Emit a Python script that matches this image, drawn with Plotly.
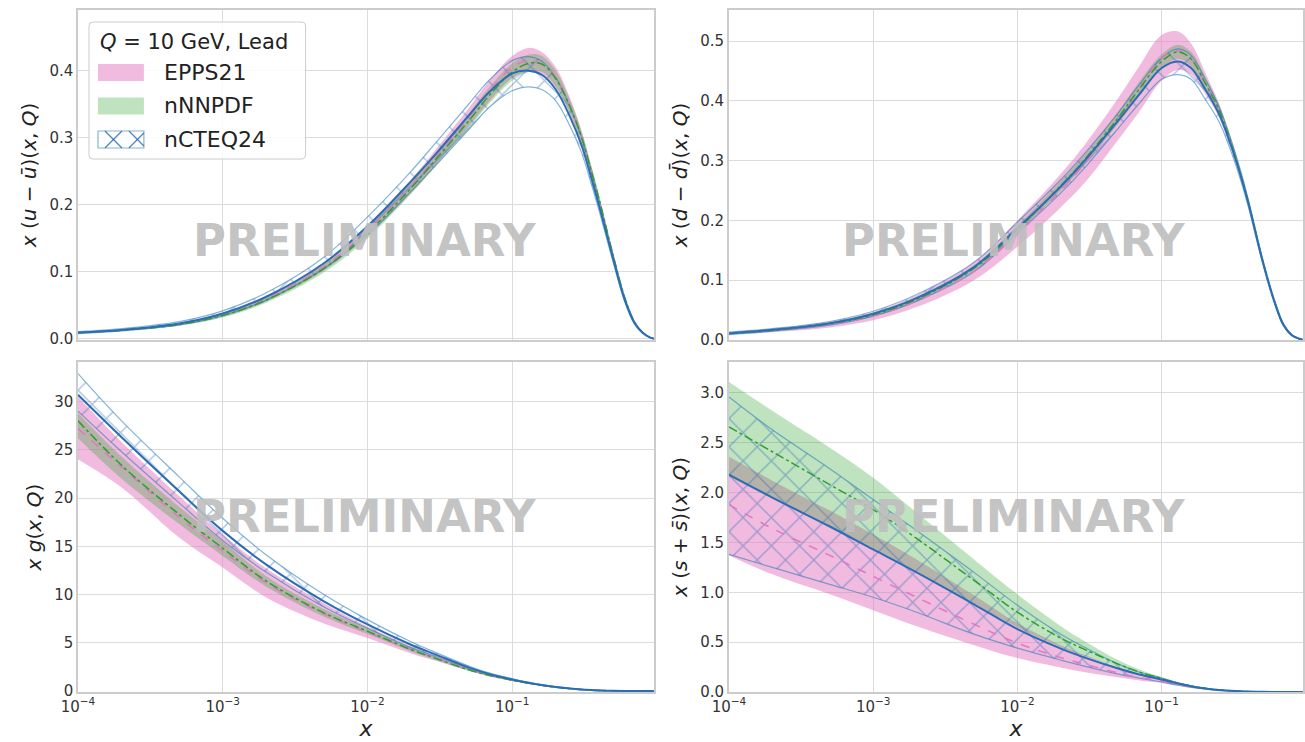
import plotly.graph_objects as go
from plotly.subplots import make_subplots

# ---------------- data ----------------
x_grid = [1e-4, 2e-4, 5e-4, 1e-3, 2e-3, 5e-3, 1e-2, 2e-2, 3e-2, 5e-2, 0.07, 0.1, 0.13, 0.16,
          0.2, 0.25, 0.3, 0.35, 0.4, 0.5, 0.6, 0.7, 0.8, 0.9, 0.95]

# x(u - ubar)
uv_epps_c = [0.0095, 0.013, 0.022, 0.036, 0.06, 0.108, 0.162, 0.228, 0.272, 0.33, 0.37, 0.405, 0.415, 0.41, 0.39, 0.348, 0.302, 0.252, 0.205, 0.122, 0.06, 0.025, 0.009, 0.002, 0.0005]
uv_epps_hi = [0.0105, 0.0145, 0.024, 0.039, 0.064, 0.114, 0.17, 0.238, 0.284, 0.344, 0.386, 0.422, 0.434, 0.428, 0.405, 0.36, 0.312, 0.26, 0.211, 0.126, 0.063, 0.026, 0.0095, 0.0021, 0.0005]
uv_epps_lo = [0.0085, 0.012, 0.020, 0.033, 0.056, 0.102, 0.154, 0.218, 0.261, 0.317, 0.355, 0.389, 0.398, 0.393, 0.375, 0.336, 0.292, 0.244, 0.198, 0.118, 0.057, 0.024, 0.0085, 0.0019, 0.0005]
uv_nnpdf_c = [0.0093, 0.013, 0.0215, 0.035, 0.058, 0.105, 0.158, 0.225, 0.269, 0.325, 0.364, 0.398, 0.411, 0.41, 0.388, 0.347, 0.302, 0.252, 0.207, 0.123, 0.061, 0.025, 0.009, 0.002, 0.0005]
uv_nnpdf_hi = [0.0101, 0.014, 0.0233, 0.038, 0.062, 0.111, 0.166, 0.234, 0.279, 0.336, 0.376, 0.411, 0.424, 0.422, 0.4, 0.357, 0.311, 0.26, 0.213, 0.127, 0.063, 0.026, 0.0095, 0.0021, 0.0005]
uv_nnpdf_lo = [0.0085, 0.012, 0.0197, 0.032, 0.054, 0.099, 0.15, 0.216, 0.259, 0.314, 0.352, 0.385, 0.398, 0.398, 0.376, 0.337, 0.293, 0.244, 0.201, 0.119, 0.059, 0.024, 0.0085, 0.0019, 0.0005]
uv_ncteq_c = [0.0095, 0.0134, 0.023, 0.038, 0.063, 0.113, 0.168, 0.235, 0.277, 0.333, 0.369, 0.396, 0.400, 0.394, 0.372, 0.332, 0.29, 0.242, 0.197, 0.118, 0.058, 0.024, 0.009, 0.002, 0.0005]
uv_ncteq_hi = [0.011, 0.0155, 0.026, 0.042, 0.069, 0.122, 0.182, 0.25, 0.294, 0.35, 0.387, 0.415, 0.421, 0.414, 0.39, 0.347, 0.302, 0.252, 0.205, 0.124, 0.062, 0.026, 0.010, 0.0023, 0.0006]
uv_ncteq_lo = [0.008, 0.012, 0.021, 0.035, 0.058, 0.105, 0.155, 0.22, 0.26, 0.312, 0.346, 0.370, 0.376, 0.372, 0.355, 0.318, 0.279, 0.233, 0.19, 0.113, 0.055, 0.022, 0.008, 0.0018, 0.0004]

# x(d - dbar)
dv_epps_c = [0.011, 0.016, 0.026, 0.04, 0.065, 0.115, 0.178, 0.25, 0.298, 0.37, 0.42, 0.472, 0.484, 0.47, 0.43, 0.384, 0.331, 0.279, 0.229, 0.133, 0.067, 0.025, 0.008, 0.002, 0.0005]
dv_epps_hi = [0.013, 0.019, 0.031, 0.047, 0.075, 0.13, 0.2, 0.278, 0.33, 0.405, 0.458, 0.51, 0.516, 0.496, 0.448, 0.396, 0.34, 0.286, 0.234, 0.136, 0.069, 0.026, 0.0085, 0.0021, 0.0005]
dv_epps_lo = [0.009, 0.013, 0.021, 0.033, 0.055, 0.1, 0.156, 0.222, 0.266, 0.335, 0.382, 0.434, 0.452, 0.444, 0.412, 0.372, 0.322, 0.272, 0.224, 0.13, 0.065, 0.024, 0.0075, 0.0019, 0.0005]
dv_nnpdf_c = [0.011, 0.016, 0.027, 0.042, 0.068, 0.12, 0.185, 0.258, 0.305, 0.372, 0.42, 0.466, 0.482, 0.47, 0.43, 0.385, 0.332, 0.28, 0.23, 0.134, 0.067, 0.025, 0.008, 0.002, 0.0005]
dv_nnpdf_hi = [0.012, 0.0175, 0.029, 0.045, 0.072, 0.125, 0.192, 0.266, 0.314, 0.382, 0.432, 0.478, 0.494, 0.482, 0.44, 0.393, 0.339, 0.286, 0.235, 0.137, 0.069, 0.026, 0.0085, 0.0021, 0.0005]
dv_nnpdf_lo = [0.010, 0.0145, 0.025, 0.039, 0.064, 0.115, 0.178, 0.25, 0.296, 0.362, 0.408, 0.454, 0.47, 0.458, 0.42, 0.377, 0.325, 0.274, 0.225, 0.131, 0.065, 0.024, 0.0075, 0.0019, 0.0005]
dv_ncteq_c = [0.011, 0.017, 0.028, 0.044, 0.07, 0.122, 0.187, 0.257, 0.303, 0.367, 0.411, 0.455, 0.466, 0.455, 0.42, 0.378, 0.328, 0.278, 0.228, 0.133, 0.067, 0.025, 0.008, 0.002, 0.0005]
dv_ncteq_hi = [0.013, 0.019, 0.031, 0.048, 0.076, 0.13, 0.197, 0.268, 0.315, 0.38, 0.427, 0.472, 0.487, 0.476, 0.437, 0.39, 0.338, 0.286, 0.234, 0.137, 0.07, 0.027, 0.009, 0.0022, 0.0006]
dv_ncteq_lo = [0.009, 0.015, 0.025, 0.04, 0.065, 0.114, 0.178, 0.246, 0.291, 0.354, 0.396, 0.436, 0.444, 0.436, 0.403, 0.365, 0.318, 0.27, 0.222, 0.129, 0.064, 0.023, 0.007, 0.0018, 0.0004]

# x g
g_epps_c = [27.2, 23.2, 18.0, 14.5, 11.2, 8.0, 6.1, 4.3, 3.4, 2.25, 1.62, 1.12, 0.8, 0.59, 0.4, 0.25, 0.15, 0.095, 0.06, 0.022, 0.008, 0.0025, 0.0008, 0.0001, 0.0]
g_epps_hi = [30.5, 25.8, 20.2, 16.2, 12.7, 9.1, 6.7, 4.7, 3.65, 2.4, 1.72, 1.18, 0.85, 0.62, 0.42, 0.26, 0.16, 0.1, 0.063, 0.024, 0.009, 0.003, 0.001, 0.0002, 0.0]
g_epps_lo = [24.0, 21.1, 15.9, 12.8, 9.7, 7.0, 5.5, 3.9, 3.1, 2.1, 1.5, 1.05, 0.76, 0.55, 0.37, 0.23, 0.14, 0.09, 0.055, 0.02, 0.007, 0.002, 0.0006, 0.0001, 0.0]
g_nnpdf_c = [28.0, 23.4, 18.3, 14.8, 11.4, 8.1, 6.2, 4.3, 3.35, 2.2, 1.6, 1.12, 0.8, 0.59, 0.4, 0.25, 0.155, 0.095, 0.06, 0.022, 0.008, 0.0025, 0.0008, 0.0001, 0.0]
g_nnpdf_hi = [28.8, 24.3, 19.1, 15.5, 11.9, 8.5, 6.5, 4.5, 3.5, 2.3, 1.68, 1.17, 0.84, 0.62, 0.42, 0.26, 0.162, 0.1, 0.063, 0.024, 0.0085, 0.0027, 0.0009, 0.0002, 0.0]
g_nnpdf_lo = [26.2, 22.0, 17.3, 14.0, 10.8, 7.7, 5.9, 4.1, 3.2, 2.1, 1.53, 1.07, 0.77, 0.56, 0.38, 0.24, 0.147, 0.09, 0.057, 0.02, 0.0075, 0.0023, 0.0007, 0.0001, 0.0]
g_ncteq_c = [30.7, 26.3, 20.7, 16.6, 13.1, 9.3, 6.9, 4.8, 3.75, 2.45, 1.75, 1.2, 0.85, 0.62, 0.42, 0.26, 0.16, 0.1, 0.065, 0.025, 0.009, 0.003, 0.001, 0.0002, 0.0]
g_ncteq_hi = [32.9, 28.0, 22.2, 17.9, 14.1, 10.0, 7.4, 5.1, 3.95, 2.6, 1.85, 1.27, 0.9, 0.66, 0.45, 0.28, 0.17, 0.11, 0.07, 0.027, 0.01, 0.0035, 0.001, 0.0002, 0.0]
g_ncteq_lo = [29.0, 24.8, 19.5, 15.6, 12.3, 8.7, 6.5, 4.5, 3.55, 2.3, 1.65, 1.13, 0.8, 0.58, 0.39, 0.24, 0.15, 0.09, 0.06, 0.023, 0.008, 0.0025, 0.0008, 0.0001, 0.0]

# x(s + sbar)
s_epps_c = [1.88, 1.64, 1.37, 1.16, 0.95, 0.68, 0.49, 0.345, 0.275, 0.19, 0.145, 0.11, 0.075, 0.052, 0.032, 0.018, 0.01, 0.006, 0.0035, 0.0012, 0.0004, 0.0001, 0.0, 0.0, 0.0]
s_epps_hi = [2.36, 2.12, 1.82, 1.58, 1.33, 0.97, 0.69, 0.47, 0.365, 0.24, 0.175, 0.128, 0.086, 0.058, 0.036, 0.02, 0.012, 0.007, 0.004, 0.0015, 0.0005, 0.0001, 0.0, 0.0, 0.0]
s_epps_lo = [1.37, 1.18, 0.98, 0.82, 0.66, 0.47, 0.34, 0.245, 0.195, 0.145, 0.115, 0.09, 0.062, 0.043, 0.027, 0.015, 0.009, 0.005, 0.003, 0.001, 0.0003, 0.0001, 0.0, 0.0, 0.0]
s_nnpdf_c = [2.66, 2.41, 2.08, 1.83, 1.54, 1.12, 0.8, 0.54, 0.42, 0.28, 0.2, 0.135, 0.088, 0.06, 0.037, 0.021, 0.012, 0.007, 0.004, 0.0015, 0.0005, 0.0001, 0.0, 0.0, 0.0]
s_nnpdf_hi = [3.11, 2.82, 2.45, 2.15, 1.8, 1.33, 0.98, 0.66, 0.5, 0.32, 0.225, 0.15, 0.097, 0.065, 0.04, 0.023, 0.014, 0.008, 0.005, 0.002, 0.0006, 0.0001, 0.0, 0.0, 0.0]
s_nnpdf_lo = [2.16, 1.94, 1.66, 1.44, 1.21, 0.89, 0.65, 0.45, 0.355, 0.235, 0.17, 0.12, 0.08, 0.055, 0.034, 0.019, 0.011, 0.0065, 0.0037, 0.0013, 0.0004, 0.0001, 0.0, 0.0, 0.0]
s_ncteq_c = [2.18, 1.95, 1.66, 1.43, 1.2, 0.88, 0.63, 0.435, 0.34, 0.235, 0.175, 0.125, 0.085, 0.058, 0.036, 0.02, 0.012, 0.007, 0.004, 0.0015, 0.0005, 0.0001, 0.0, 0.0, 0.0]
s_ncteq_hi = [2.96, 2.63, 2.24, 1.93, 1.62, 1.2, 0.87, 0.58, 0.44, 0.28, 0.2, 0.14, 0.092, 0.062, 0.038, 0.022, 0.013, 0.0075, 0.0045, 0.0016, 0.0005, 0.0001, 0.0, 0.0, 0.0]
s_ncteq_lo = [1.38, 1.25, 1.08, 0.95, 0.8, 0.58, 0.44, 0.32, 0.255, 0.18, 0.14, 0.1, 0.068, 0.047, 0.03, 0.017, 0.01, 0.0055, 0.0032, 0.0011, 0.0004, 0.0001, 0.0, 0.0, 0.0]

x_tick_vals = [1e-4, 1e-3, 1e-2, 1e-1]
x_tick_text = ["10<sup>−4</sup>", "10<sup>−3</sup>", "10<sup>−2</sup>", "10<sup>−1</sup>"]
set_names = ["EPPS21", "nNNPDF", "nCTEQ24"]
legend_title = "<i>Q</i> = 10 GeV, Lead"
watermark = "PRELIMINARY"

# ---------------- styling ----------------
PINK_FILL = "rgba(227,119,194,0.5)"
GREEN_FILL = "rgba(44,160,44,0.3)"
BLUE = "#2a6db5"
BLUE_EDGE = "rgba(31,119,180,0.55)"
HATCH = "rgba(31,100,180,0.8)"
PINK_LINE = "#e377c2"
GREEN_LINE = "#2ca02c"
FONT = "DejaVu Sans"

fig = make_subplots(rows=2, cols=2, horizontal_spacing=0.06, vertical_spacing=0.03)

panels = [
    (1, 1, (uv_epps_lo, uv_epps_hi, uv_epps_c), (uv_nnpdf_lo, uv_nnpdf_hi, uv_nnpdf_c), (uv_ncteq_lo, uv_ncteq_hi, uv_ncteq_c)),
    (1, 2, (dv_epps_lo, dv_epps_hi, dv_epps_c), (dv_nnpdf_lo, dv_nnpdf_hi, dv_nnpdf_c), (dv_ncteq_lo, dv_ncteq_hi, dv_ncteq_c)),
    (2, 1, (g_epps_lo, g_epps_hi, g_epps_c), (g_nnpdf_lo, g_nnpdf_hi, g_nnpdf_c), (g_ncteq_lo, g_ncteq_hi, g_ncteq_c)),
    (2, 2, (s_epps_lo, s_epps_hi, s_epps_c), (s_nnpdf_lo, s_nnpdf_hi, s_nnpdf_c), (s_ncteq_lo, s_ncteq_hi, s_ncteq_c)),
]

for (r, c, ep, nn, nc) in panels:
    # EPPS21 band
    fig.add_trace(go.Scatter(x=x_grid, y=ep[0], mode="lines", line=dict(width=0, shape="spline"),
                             showlegend=False, hoverinfo="skip"), row=r, col=c)
    fig.add_trace(go.Scatter(x=x_grid, y=ep[1], mode="lines", line=dict(width=0, shape="spline"),
                             fill="tonexty", fillcolor=PINK_FILL, name=set_names[0],
                             showlegend=False, hoverinfo="skip"), row=r, col=c)
    # nNNPDF band
    fig.add_trace(go.Scatter(x=x_grid, y=nn[0], mode="lines", line=dict(width=0, shape="spline"),
                             showlegend=False, hoverinfo="skip"), row=r, col=c)
    fig.add_trace(go.Scatter(x=x_grid, y=nn[1], mode="lines", line=dict(width=0, shape="spline"),
                             fill="tonexty", fillcolor=GREEN_FILL, name=set_names[1],
                             showlegend=False, hoverinfo="skip"), row=r, col=c)
    # nCTEQ24 hatched band
    fig.add_trace(go.Scatter(x=x_grid, y=nc[0], mode="lines", line=dict(width=1.2, color=BLUE_EDGE, shape="spline"),
                             showlegend=False, hoverinfo="skip"), row=r, col=c)
    fig.add_trace(go.Scatter(x=x_grid, y=nc[1], mode="lines", line=dict(width=1.2, color=BLUE_EDGE, shape="spline"),
                             fill="tonexty", fillcolor="rgba(0,0,0,0)",
                             fillpattern=dict(shape="x", fgcolor=HATCH, fillmode="overlay",
                                              size=20, solidity=0.13),
                             name=set_names[2], showlegend=False, hoverinfo="skip"), row=r, col=c)
    # central lines
    fig.add_trace(go.Scatter(x=x_grid, y=ep[2], mode="lines",
                             line=dict(width=1.5, color=PINK_LINE, dash="dash", shape="spline"),
                             showlegend=False, hoverinfo="skip"), row=r, col=c)
    fig.add_trace(go.Scatter(x=x_grid, y=nn[2], mode="lines",
                             line=dict(width=1.5, color=GREEN_LINE, dash="dashdot", shape="spline"),
                             showlegend=False, hoverinfo="skip"), row=r, col=c)
    fig.add_trace(go.Scatter(x=x_grid, y=nc[2], mode="lines",
                             line=dict(width=2, color=BLUE, shape="spline"),
                             showlegend=False, hoverinfo="skip"), row=r, col=c)

W, H = 1305, 742
ml, mr, mt, mb = 78, 0, 10, 50
pw, ph = W - ml - mr, H - mt - mb

def px_x(p):
    return (p - ml) / pw

def px_y(p):
    return (H - mb - p) / ph

xl = [px_x(78), px_x(655)]
xr = [px_x(730), 1.0]
yt = [px_y(340), 1.0]
yb = [0.0, px_y(362)]

axis_common = dict(showgrid=True, gridcolor="#dcdcdc", gridwidth=1, showline=True, mirror=True,
                   linecolor="#cccccc", linewidth=1.5, ticks="", zeroline=False,
                   tickfont=dict(family=FONT, size=15, color="#333333"))

for r, c, dom_x, dom_y in [(1, 1, xl, yt), (1, 2, xr, yt), (2, 1, xl, yb), (2, 2, xr, yb)]:
    fig.update_xaxes(type="log", range=[-4, -0.02], domain=dom_x, tickvals=x_tick_vals,
                     ticktext=x_tick_text, showticklabels=(r == 2), row=r, col=c, **axis_common)
    fig.update_yaxes(domain=dom_y, row=r, col=c, **axis_common)

title_font = dict(family=FONT, size=20, color="#222222")
fig.update_yaxes(range=[-0.0015, 0.4905], tickvals=[0, 0.1, 0.2, 0.3, 0.4], tickformat=".1f",
                 title=dict(text="<i>x</i> (<i>u</i> − <i>ū</i>)(<i>x</i>, <i>Q</i>)", font=title_font, standoff=7),
                 row=1, col=1)
fig.update_yaxes(range=[0.0, 0.552], tickvals=[0, 0.1, 0.2, 0.3, 0.4, 0.5], tickformat=".1f",
                 title=dict(text="<i>x</i> (<i>d</i> − <i>d̄</i>)(<i>x</i>, <i>Q</i>)", font=title_font, standoff=7),
                 row=1, col=2)
fig.update_yaxes(range=[-0.1, 34.1], tickvals=[0, 5, 10, 15, 20, 25, 30],
                 title=dict(text="<i>x</i> <i>g</i>(<i>x</i>, <i>Q</i>)", font=title_font, standoff=7),
                 row=2, col=1)
fig.update_yaxes(range=[0.0, 3.31], tickvals=[0, 0.5, 1.0, 1.5, 2.0, 2.5, 3.0], tickformat=".1f",
                 title=dict(text="<i>x</i> (<i>s</i> + <i>s̄</i>)(<i>x</i>, <i>Q</i>)", font=title_font, standoff=7),
                 row=2, col=2)
for cc in (1, 2):
    fig.update_xaxes(title=dict(text="<i>x</i>", font=dict(family=FONT, size=22, color="#222222"), standoff=4),
                     row=2, col=cc)

annotations = []
for cx, cy in [(365, 240), (1016, 240), (365, 516), (1016, 516)]:
    annotations.append(dict(text="<b>" + watermark + "</b>", x=px_x(cx), y=px_y(cy), xref="paper", yref="paper",
                            showarrow=False, xanchor="center", yanchor="middle",
                            font=dict(family=FONT, size=45, color="rgba(190,190,190,0.92)")))

# ---------------- hand-drawn legend (box, patches, labels) ----------------
shapes = []
bx0, by0, bx1, by1, rad = 89, 22, 306, 159, 4
path = (f"M {px_x(bx0 + rad)} {px_y(by0)} L {px_x(bx1 - rad)} {px_y(by0)} "
        f"Q {px_x(bx1)} {px_y(by0)} {px_x(bx1)} {px_y(by0 + rad)} "
        f"L {px_x(bx1)} {px_y(by1 - rad)} Q {px_x(bx1)} {px_y(by1)} {px_x(bx1 - rad)} {px_y(by1)} "
        f"L {px_x(bx0 + rad)} {px_y(by1)} Q {px_x(bx0)} {px_y(by1)} {px_x(bx0)} {px_y(by1 - rad)} "
        f"L {px_x(bx0)} {px_y(by0 + rad)} Q {px_x(bx0)} {px_y(by0)} {px_x(bx0 + rad)} {px_y(by0)} Z")
shapes.append(dict(type="path", path=path, xref="paper", yref="paper",
                   fillcolor="rgba(255,255,255,0.85)", line=dict(color="#cccccc", width=1), layer="above"))

patch_x0, patch_x1, patch_h = 98, 144, 17
rows_y = [72.5, 106, 139.5]
fills = [PINK_FILL, GREEN_FILL, None]
for yc, fc in zip(rows_y, fills):
    y0, y1 = yc - patch_h / 2, yc + patch_h / 2
    if fc is not None:
        shapes.append(dict(type="rect", xref="paper", yref="paper", x0=px_x(patch_x0), x1=px_x(patch_x1),
                           y0=px_y(y1), y1=px_y(y0), fillcolor=fc, line=dict(width=0), layer="above"))
    else:
        shapes.append(dict(type="rect", xref="paper", yref="paper", x0=px_x(patch_x0), x1=px_x(patch_x1),
                           y0=px_y(y1), y1=px_y(y0), fillcolor="rgba(0,0,0,0)",
                           line=dict(color=BLUE_EDGE, width=1.2), layer="above"))
        # 45-degree cross hatching clipped to the patch
        period = 24
        k = patch_x0 - patch_h
        while k < patch_x1:
            for sgn in (1, -1):
                slope = ((y0 - y1) if sgn == 1 else (y1 - y0)) / patch_h
                ystart = y1 if sgn == 1 else y0
                xa, xb = max(k, patch_x0), min(k + patch_h, patch_x1)
                if xb > xa:
                    ya = ystart + slope * (xa - k)
                    yb_ = ystart + slope * (xb - k)
                    shapes.append(dict(type="line", xref="paper", yref="paper", x0=px_x(xa), y0=px_y(ya),
                                       x1=px_x(xb), y1=px_y(yb_), line=dict(color=HATCH, width=1.2), layer="above"))
            k += period

annotations.append(dict(text=legend_title, x=px_x(98), y=px_y(42), xref="paper", yref="paper",
                        showarrow=False, xanchor="left", yanchor="middle",
                        font=dict(family=FONT, size=21, color="#222222")))
for name, yc in zip(set_names, rows_y):
    annotations.append(dict(text=name, x=px_x(162), y=px_y(yc), xref="paper", yref="paper",
                            showarrow=False, xanchor="left", yanchor="middle",
                            font=dict(family=FONT, size=22, color="#222222")))

fig.update_layout(
    width=W, height=H,
    margin=dict(l=ml, r=mr, t=mt, b=mb),
    paper_bgcolor="white", plot_bgcolor="white",
    font=dict(family=FONT, color="#222222"),
    annotations=annotations,
    shapes=shapes,
    showlegend=False,
)

fig.write_html("out.html")
